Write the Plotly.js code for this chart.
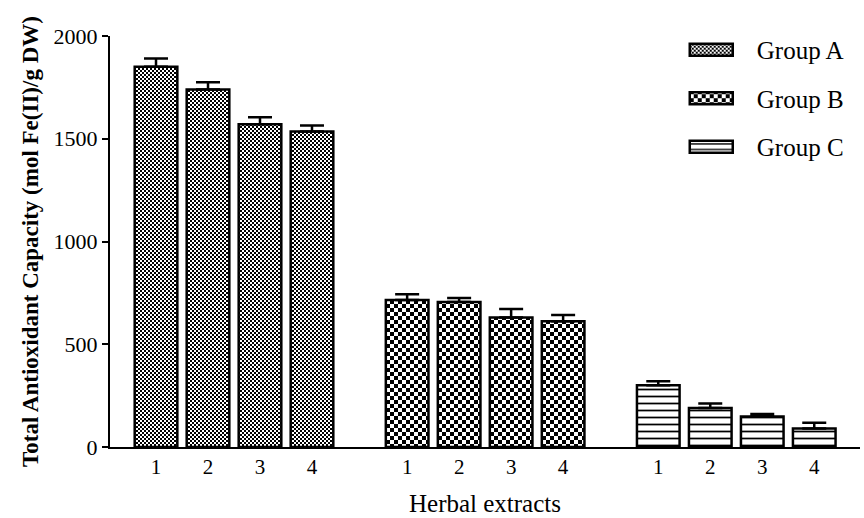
<!DOCTYPE html>
<html><head><meta charset="utf-8">
<script src="https://cdn.plot.ly/plotly-3.0.1.min.js"></script>
<style>html,body{margin:0;padding:0;background:#fff}#chart{width:864px;height:518px}</style>
</head><body><div id="chart"></div>
<script>
// ---- data ----
const groupNames = ["Group A", "Group B", "Group C"];
const extractLabels = ["1", "2", "3", "4"];
const groupA = [1850, 1740, 1570, 1535];
const groupAErr = [40, 35, 35, 30];
const groupB = [715, 705, 630, 612];
const groupBErr = [28, 20, 42, 30];
const groupC = [300, 190, 148, 90];
const groupCErr = [20, 22, 12, 28];
const xTitle = "Herbal extracts";
const yTitle = "Total Antioxidant Capacity (mol Fe(II)/g DW)";

// ---- layout helpers ----
const GROUP_STEP = 4.83;
const xPos = g => extractLabels.map((_, i) => 1 + g * GROUP_STEP + i);
const FONT = "Liberation Serif, Times New Roman, serif";

const values = [groupA, groupB, groupC];
const errs = [groupAErr, groupBErr, groupCErr];
const patterns = [
  {shape: ".", size: 4, solidity: 0.45, fgcolor: "#000", bgcolor: "#fff", fillmode: "replace"},
  {shape: ".", size: 8, solidity: 0.45, fgcolor: "#000", bgcolor: "#fff", fillmode: "replace"},
  {shape: "-", size: 7, solidity: 0.25, fgcolor: "#000", bgcolor: "#fff", fillmode: "replace"}
];

const traces = groupNames.map((name, g) => ({
  type: "bar",
  name: name,
  legendgroup: name,
  x: xPos(g),
  y: values[g],
  width: 0.82,
  marker: {color: "#fff", line: {color: "#000", width: 2.5}, pattern: patterns[g]},
  error_y: {type: "data", symmetric: false, array: errs[g], arrayminus: errs[g].map(() => 0),
            color: "#000", thickness: 2.5, width: 12},
  hoverinfo: "skip"
}));

const tickvals = [].concat(...groupNames.map((_, g) => xPos(g)));
const ticktext = [].concat(...groupNames.map(() => extractLabels));

const layout = {
  width: 864, height: 518,
  margin: {l: 110, r: 4, t: 36, b: 71},
  paper_bgcolor: "#fff", plot_bgcolor: "#fff",
  font: {family: FONT, color: "#000", size: 20},
  showlegend: true,
  legend: {x: 0.769, y: 1.022, xanchor: "left", yanchor: "top", font: {family: FONT, size: 25, color: "#000"},
           tracegroupgap: 13, itemwidth: 60, bgcolor: "rgba(0,0,0,0)"},
  bargap: 0,
  xaxis: {range: [0.115, 14.54], showline: true, linecolor: "#000", linewidth: 2, ticks: "",
          showgrid: false, zeroline: false, tickmode: "array", tickvals: tickvals, ticktext: ticktext,
          tickfont: {family: FONT, size: 21, color: "#000"},
          title: {text: xTitle, font: {family: FONT, size: 25, color: "#000"}, standoff: 16}},
  yaxis: {range: [0, 2000], showline: true, linecolor: "#000", linewidth: 2, ticks: "outside",
          ticklen: 6, tickwidth: 2, tickcolor: "#000", dtick: 500, showgrid: false, zeroline: false,
          tickfont: {family: FONT, size: 22, color: "#000"},
          title: {text: "<b>" + yTitle + "</b>", font: {family: FONT, size: 23, color: "#000"}, standoff: 9}}
};

const gd = document.getElementById("chart");
const ns = "http://www.w3.org/2000/svg";
const ids = ["chkA", "chkB"];

function ensureDefs() {
  const svgs = gd.querySelectorAll("svg.main-svg");
  svgs.forEach(svg => {
    if (svg.querySelector("#chkA")) return;
    let defs = svg.querySelector("defs");
    if (!defs) { defs = document.createElementNS(ns, "defs"); svg.insertBefore(defs, svg.firstChild); }
    function mk(id, cell) {
      if (document.getElementById(id)) return;
      const p = document.createElementNS(ns, "pattern");
      p.setAttribute("id", id);
      p.setAttribute("patternUnits", "userSpaceOnUse");
      p.setAttribute("width", 2 * cell);
      p.setAttribute("height", 2 * cell);
      const r = (x, y, w, h, f) => {
        const e = document.createElementNS(ns, "rect");
        e.setAttribute("x", x); e.setAttribute("y", y); e.setAttribute("width", w); e.setAttribute("height", h);
        e.setAttribute("fill", f); p.appendChild(e);
      };
      r(0, 0, 2 * cell, 2 * cell, "#fff");
      r(0, 0, cell, cell, "#000");
      r(cell, cell, cell, cell, "#000");
      defs.appendChild(p);
    }
    mk("chkA", 2);
    mk("chkB", 4);
  });
}

function applyPatterns() {
  try {
    ensureDefs();
    const barTraces = gd.querySelectorAll(".barlayer .trace");
    ids.forEach((id, k) => {
      if (barTraces[k]) barTraces[k].querySelectorAll("path").forEach(p => { p.style.fill = "url(#" + id + ")"; });
    });
    gd.querySelectorAll(".legend .scrollbox").forEach(s => s.removeAttribute("clip-path"));
    const legItems = gd.querySelectorAll(".legend .traces");
    legItems.forEach((item, k) => {
      const txt = item.querySelector("text");
      const paths = item.querySelectorAll(".legendpoints path");
      if (!txt) return;
      const textLeft = txt.getBoundingClientRect().left;
      paths.forEach(p => {
        const m = p.getScreenCTM();
        if (!m) return;
        const left = (textLeft - 67) - m.e, right = (textLeft - 24) - m.e;
        p.setAttribute("d", "M" + left + ",-6H" + right + "V6H" + left + "Z");
        p.style.strokeWidth = "2.5px";
        if (k < 2) p.style.fill = "url(#" + ids[k] + ")";
      });
    });
  } catch (e) { console.error(e); }
}

Plotly.newPlot(gd, traces, layout, {staticPlot: true, displayModeBar: false}).then(() => {
  applyPatterns();
  [0, 50, 200, 600, 1500].forEach(t => setTimeout(applyPatterns, t));
});
</script>
</body></html>
